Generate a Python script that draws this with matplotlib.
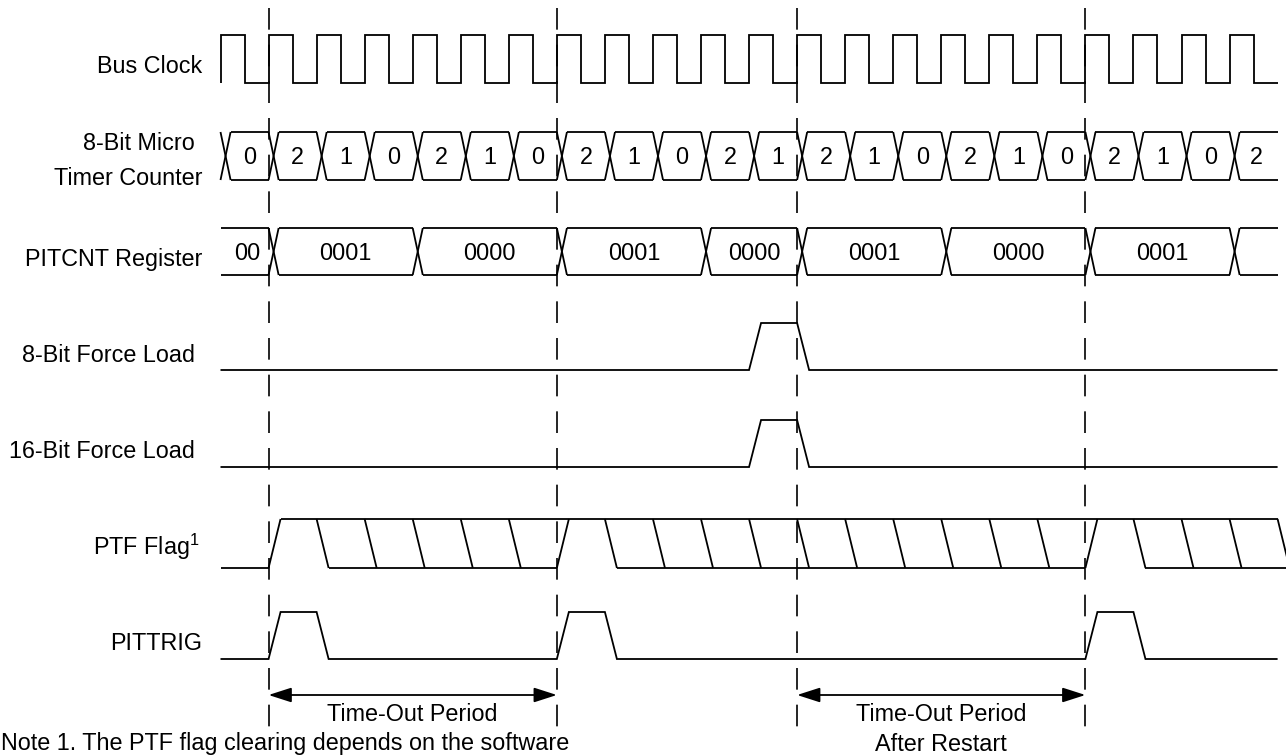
"""PIT timing diagram: bus clock, micro timer, PITCNT and trigger signals."""

import matplotlib

matplotlib.use("Agg")
import matplotlib.pyplot as plt

# ==============================================================================
# DATA (time in bus clock cycles)
# ==============================================================================

CLOCK_RISES = [0, 1, 2, 3, 4, 5, 6, 7, 8, 9, 10, 11, 12, 13, 14, 15, 16, 17, 18, 19, 20, 21]
TRACE_END = 22

MICRO_EDGES = [0, 1, 2, 3, 4, 5, 6, 7, 8, 9, 10, 11, 12, 13, 14, 15, 16, 17, 18, 19, 20, 21]
MICRO_VALUES = ["0", "2", "1", "0", "2", "1", "0", "2", "1", "0", "2", "1",
                "2", "1", "0", "2", "1", "0", "2", "1", "0", "2"]

PITCNT_EDGES = [0, 1, 4, 7, 10, 12, 15, 18, 21]
PITCNT_VALUES = ["00", "0001", "0000", "0001", "0000", "0001", "0000", "0001", ""]

FORCE_LOAD_8 = [(11, 12)]
FORCE_LOAD_16 = [(11, 12)]

PTF_SET = [1, 7, 18]
PTF_CLEAR = [2, 3, 4, 5, 6, 8, 9, 10, 11, 12, 13, 14, 15, 16, 17, 19, 20, 21, 22]

PITTRIG_PULSES = [(1, 2), (7, 8), (18, 19)]

MARKERS = [1, 7, 12, 18]
PERIODS = [(1, 7, ["Time-Out Period"]),
           (12, 18, ["Time-Out Period", "After Restart"])]

NOTE = "Note 1. The PTF flag clearing depends on the software"

# ==============================================================================
# LAYOUT / STYLE (y in pixels from the top, x in clock cycles)
# ==============================================================================

W, H = 1286, 756
X0_PX, CYCLE_PX = 220.5, 48.05

CLK = (35, 83)
MICRO = (132, 180)
CNT = (228, 275)
FL8 = (323, 370)
FL16 = (420, 467)
PTF = (519, 568)
TRIG = (612, 659)
ARROW_Y = 695

BUS_X = 0.21    # width of a bus crossing
RAMP = 0.25     # rise/fall time of the control signals
LW = 1.3
FS = 16.8

plt.rcParams.update({
    "font.family": ["Liberation Sans", "DejaVu Sans"],
    "mathtext.default": "regular",
    "lines.solid_capstyle": "butt",
})


def line(ax, xs, ys, **kw):
    ax.plot(xs, ys, color="black", lw=LW, solid_joinstyle="miter", **kw)


def draw_clock(ax, rises, end, hi, lo):
    xs, ys = [], []
    for r in rises:
        xs += [r, r, r + 0.5, r + 0.5]
        ys += [lo, hi, hi, lo]
    xs.append(end)
    ys.append(lo)
    line(ax, xs, ys)


def draw_bus(ax, edges, values, end, top, bot, first_cross=True):
    mid = (top + bot) / 2
    for i, e in enumerate(edges):
        crossing = first_cross or i > 0
        if crossing:
            line(ax, [e, e + BUS_X], [top, bot])
            line(ax, [e, e + BUS_X], [bot, top])
        start = e + BUS_X if crossing else e
        stop = edges[i + 1] if i + 1 < len(edges) else end
        line(ax, [start, stop], [top, top])
        line(ax, [start, stop], [bot, bot])
        left = e + BUS_X / 2 if crossing else e
        right = stop + BUS_X / 2 if i + 1 < len(edges) else end
        ax.text((left + right) / 2, mid + 8, values[i], fontsize=FS,
                ha="center", va="baseline")


def draw_pulses(ax, pulses, end, hi, lo):
    xs, ys = [0], [lo]
    for a, b in pulses:
        xs += [a, a + RAMP, b, b + RAMP]
        ys += [lo, hi, hi, lo]
    xs.append(end)
    ys.append(lo)
    line(ax, xs, ys)


def draw_ptf(ax, sets, clears, end, hi, lo):
    line(ax, [0, sets[0]], [lo, lo])
    for s in sets:
        line(ax, [s, s + RAMP], [lo, hi])
    line(ax, [sets[0] + RAMP, end], [hi, hi])
    for c in clears:
        line(ax, [c, c + RAMP], [hi, lo])
    bounds = sets[1:] + [clears[-1] + RAMP]
    for s, nxt in zip(sets, bounds):
        first = min(c for c in clears if c > s)
        line(ax, [first + RAMP, nxt], [lo, lo])


def plot_figure():
    fig = plt.figure(figsize=(W / 100, H / 100), dpi=100)
    ax = fig.add_axes([0, 0, 1, 1])
    ax.set_xlim(-X0_PX / CYCLE_PX, (W - X0_PX) / CYCLE_PX)
    ax.set_ylim(H, 0)
    ax.axis("off")

    # signal names
    lab_r = (202 - X0_PX) / CYCLE_PX
    lab_r2 = (195 - X0_PX) / CYCLE_PX
    ax.text(lab_r, 73, "Bus Clock", fontsize=FS, ha="right", va="baseline")
    ax.text(lab_r2, 150, "8-Bit Micro", fontsize=FS, ha="right", va="baseline")
    ax.text(lab_r, 185, "Timer Counter", fontsize=FS, ha="right", va="baseline")
    ax.text(lab_r, 266, "PITCNT Register", fontsize=FS, ha="right", va="baseline")
    ax.text(lab_r2, 362, "8-Bit Force Load", fontsize=FS, ha="right", va="baseline")
    ax.text(lab_r2, 458, "16-Bit Force Load", fontsize=FS, ha="right", va="baseline")
    ax.text((200 - X0_PX) / CYCLE_PX, 555, "PTF Flag$^1$", fontsize=FS,
            ha="right", va="baseline")
    ax.text(lab_r, 650, "PITTRIG", fontsize=FS, ha="right", va="baseline")

    # waveforms
    draw_clock(ax, CLOCK_RISES, TRACE_END, *CLK)
    draw_bus(ax, MICRO_EDGES, MICRO_VALUES, TRACE_END, *MICRO)
    draw_bus(ax, PITCNT_EDGES, PITCNT_VALUES, TRACE_END, *CNT, first_cross=False)
    draw_pulses(ax, FORCE_LOAD_8, TRACE_END, *FL8)
    draw_pulses(ax, FORCE_LOAD_16, TRACE_END, *FL16)
    draw_ptf(ax, PTF_SET, PTF_CLEAR, TRACE_END, *PTF)
    draw_pulses(ax, PITTRIG_PULSES, TRACE_END, *TRIG)

    # dashed reference lines
    for m in MARKERS:
        ax.plot([m, m], [8, 731], color="black", lw=1.2,
                linestyle=(0, (13, 9)))

    # period arrows
    for a, b, texts in PERIODS:
        ax.annotate("", xy=(b, ARROW_Y), xytext=(a, ARROW_Y),
                    arrowprops=dict(arrowstyle="<|-|>,head_length=1.4,head_width=0.45",
                                    color="black", lw=LW, shrinkA=0, shrinkB=0,
                                    mutation_scale=10))
        for k, t in enumerate(texts):
            ax.text((a + b) / 2, 721 + 30 * k, t, fontsize=FS,
                    ha="center", va="baseline")

    ax.text(-X0_PX / CYCLE_PX + 0.02, 750, NOTE, fontsize=FS,
            ha="left", va="baseline")
    return fig


def main():
    fig = plot_figure()
    fig.savefig("out.png", dpi=100, facecolor="white")
    plt.close(fig)


if __name__ == "__main__":
    main()
